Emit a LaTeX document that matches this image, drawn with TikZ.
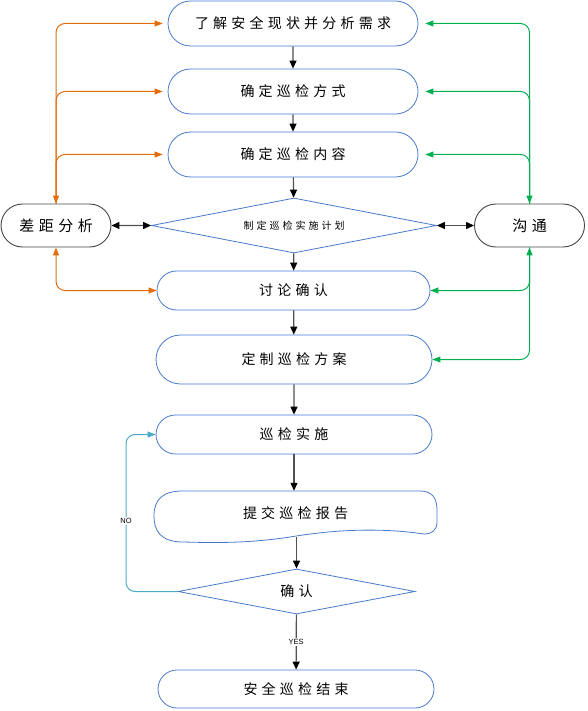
\documentclass[tikz,border=0pt]{standalone}
\usepackage{fontspec}
\setmainfont{Liberation Sans}
\newfontfamily\cjk[LetterSpace=30]{Noto Sans CJK SC}
\newfontfamily\cjksmall[LetterSpace=30]{Noto Sans CJK SC}
\usetikzlibrary{shapes.misc,shapes.geometric,arrows.meta}
\definecolor{boxblue}{RGB}{72,122,204}
\definecolor{sidegray}{RGB}{70,70,70}
\definecolor{flowgray}{RGB}{80,80,80}
\definecolor{gaporange}{RGB}{228,108,10}
\definecolor{talkgreen}{RGB}{0,176,80}
\definecolor{nocyan}{RGB}{75,172,198}

\begin{document}
\begin{tikzpicture}[x=1pt,y=-1pt,
  stepbox/.style={draw=boxblue,line width=0.8pt,rounded rectangle,inner sep=0pt,
    font=\cjk\fontsize{14}{16}\selectfont},
  sidebox/.style={draw=sidegray,line width=0.9pt,rounded rectangle,inner sep=0pt,
    minimum width=110pt,minimum height=43pt,font=\cjk\fontsize{15}{17}\selectfont},
  decision/.style={draw=boxblue,line width=0.8pt,diamond,inner sep=0pt},
  flow/.style={draw=flowgray,line width=1.2pt,-{Triangle[length=8pt,width=7pt,color=black]}},
  twoway/.style={draw=flowgray,line width=1.2pt,{Triangle[length=8pt,width=7pt,color=black]}-{Triangle[length=8pt,width=7pt,color=black]}},
  gapline/.style={draw=gaporange,line width=1pt,rounded corners=9pt,-{Triangle[length=8pt,width=6pt]}},
  talkline/.style={draw=talkgreen,line width=1pt,rounded corners=9pt,-{Triangle[length=8pt,width=6pt]}},
  tag/.style={fill=white,inner sep=1pt,font=\fontsize{7.5}{8}\selectfont}]
\useasboundingbox (0,0) rectangle (587,711);

\node[stepbox,minimum width=250pt,minimum height=45pt] (need) at (293,23.5) {了解安全现状并分析需求};
\node[stepbox,minimum width=250pt,minimum height=45pt] (mode) at (293,91.5) {确定巡检方式};
\node[stepbox,minimum width=250pt,minimum height=45pt] (content) at (293,154.5) {确定巡检内容};
\node[decision,minimum width=285pt,minimum height=55pt,aspect=5.2,
  font=\cjksmall\fontsize{10}{12}\selectfont] (plan) at (294,225.5) {制定巡检实施计划};
\node[sidebox] (gap) at (56,225.5) {差距分析};
\node[sidebox] (talk) at (529.5,225.5) {沟通};
\node[stepbox,minimum width=273pt,minimum height=39pt] (discuss) at (293.5,290.5) {讨论确认};
\node[stepbox,minimum width=276pt,minimum height=49pt] (scheme) at (294,359.5) {定制巡检方案};
\node[stepbox,minimum width=276pt,minimum height=39pt] (exec) at (294,434.5) {巡检实施};
\node[minimum width=283pt,minimum height=46pt,inner sep=0pt,
  font=\cjk\fontsize{14}{16}\selectfont] (report) at (295.5,514) {\raisebox{3pt}{提交巡检报告}};
\node[decision,minimum width=237pt,minimum height=45pt,aspect=5.2,
  font=\cjk\fontsize{14}{16}\selectfont] (ok) at (296.5,591.5) {确认};
\node[stepbox,minimum width=276pt,minimum height=38pt] (finish) at (296,689) {安全巡检结束};

% wavy outline of the report
\draw[boxblue,line width=0.8pt] (183,491) -- (420,491)
  .. controls (432,491) and (437,498) .. (437,510) -- (437,522)
  .. controls (437,530) and (432,534) .. (424,534)
  .. controls (370,526) and (320,532) .. (290,537)
  .. controls (250,543) and (220,543) .. (183,542)
  .. controls (160,542) and (154,530) .. (154,516)
  .. controls (154,500) and (162,491) .. (183,491) -- cycle;

\path[flow] (need) -- (mode);
\path[flow] (mode) -- (content);
\path[flow] (content) -- (plan);
\path[flow] (plan) -- (discuss);
\path[flow] (discuss) -- (scheme);
\path[flow] (scheme) -- (exec);
\path[flow] (exec.south) -- (exec.south |- report.north);
\path[flow] (report.south -| ok.north) -- (ok.north);
\path[flow] (ok) -- node[tag] {YES} (finish);

\path[twoway] (gap) -- (plan);
\path[twoway] (plan) -- (talk);

\path[gapline,{Triangle[length=8pt,width=6pt]}-{Triangle[length=8pt,width=6pt]}] (gap.north) |- ([xshift=-5pt]need.west);
\path[gapline] (gap.north) |- ([xshift=-5pt]mode.west);
\path[gapline] (gap.north) |- ([xshift=-5pt]content.west);
\path[gapline,{Triangle[length=8pt,width=6pt]}-{Triangle[length=8pt,width=6pt]}] (gap.south) |- (discuss.west);

\path[talkline,{Triangle[length=8pt,width=6pt]}-{Triangle[length=8pt,width=6pt]}] (talk.north) |- ([xshift=7pt]need.east);
\path[talkline] (talk.north) |- ([xshift=7pt]mode.east);
\path[talkline] (talk.north) |- ([xshift=7pt]content.east);
\path[talkline,{Triangle[length=8pt,width=6pt]}-{Triangle[length=8pt,width=6pt]}] (talk.south) |- (discuss.east);
\path[talkline] (talk.south) |- (scheme.east);

\coordinate (nobend) at (126,591.5);
\path[draw=nocyan,line width=1pt,rounded corners=9pt,-{Triangle[length=8pt,width=6pt]}]
  (ok.west) -- (nobend) -- node[tag,pos=0.45] {NO} (nobend |- exec.west) -- (exec.west);
\end{tikzpicture}
\end{document}
